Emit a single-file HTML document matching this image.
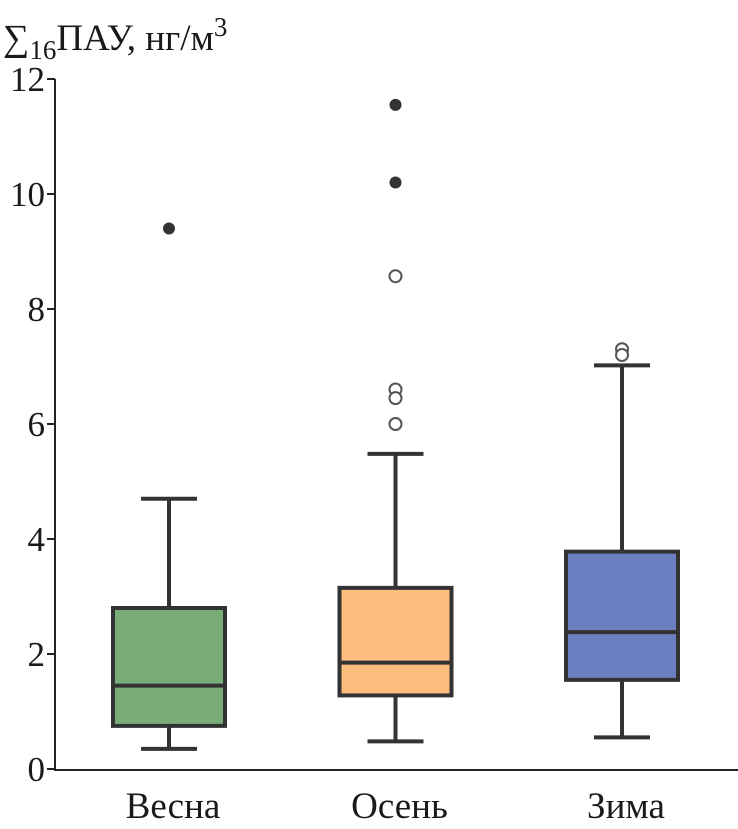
<!DOCTYPE html>
<html><head><meta charset="utf-8"><style>
html,body{margin:0;padding:0;background:#fff}
svg{display:block}
text{font-family:"Liberation Serif",serif;fill:#1a1a1a}
</style></head><body>
<svg id="chart" width="738" height="829" viewBox="0 0 738 829" xmlns="http://www.w3.org/2000/svg">
<text x="3" y="50" font-size="37">∑<tspan font-size="27" dy="9">16</tspan><tspan dy="-9">ПАУ, нг/м</tspan><tspan font-size="27" dy="-14">3</tspan></text>
<g id="axes"></g>
<g id="boxes"></g>
</svg>
<script>
const categories=["Весна","Осень","Зима"];
const colors=["#79ad78","#fdbe7d","#6b7ec0"];
const whiskerLow=[0.35,0.48,0.55];
const q1=[0.75,1.28,1.55];
const median=[1.45,1.85,2.38];
const q3=[2.8,3.15,3.78];
const whiskerHigh=[4.7,5.48,7.02];
const filledOutliers=[[9.4],[11.55,10.2],[]];
const openOutliers=[[],[8.57,6.6,6.45,6.0],[7.3,7.2]];
const yTicks=[0,2,4,6,8,10,12];
const NS="http://www.w3.org/2000/svg";
const y=v=>769-v*57.5;
const xc=i=>169+i*226.5;
const bw=112;
function mk(tag,attrs,parent){const e=document.createElementNS(NS,tag);for(const k in attrs)e.setAttribute(k,attrs[k]);parent.appendChild(e);return e;}
const axes=document.getElementById('axes');
let a=mk('line',{x1:55,x2:55,y1:y(12),y2:y(0)+2,stroke:'#222','stroke-width':2},axes);


a=mk('line',{x1:55,x2:738,y1:y(0)+1,y2:y(0)+1,stroke:'#222','stroke-width':2},axes);


yTicks.forEach(t=>{
 let l=mk('line',{x1:47,x2:55,y1:y(t),y2:y(t),stroke:'#222','stroke-width':2},axes);
 
 
 let tx=mk('text',{x:45,y:y(t)+12,'font-size':35,'text-anchor':'end'},axes);
 tx.textContent=t;
 
 
});
const g=document.getElementById('boxes');
categories.forEach((c,i)=>{
 const x=xc(i);
 let w=mk('line',{x1:x,x2:x,y1:y(whiskerLow[i]),y2:y(whiskerHigh[i]),stroke:'#333','stroke-width':4},g);
 
 
 [whiskerLow[i],whiskerHigh[i]].forEach(v=>{
  let cap=mk('line',{x1:x-28,x2:x+28,y1:y(v),y2:y(v),stroke:'#333','stroke-width':4},g);
  
  
 });
 let b=mk('rect',{x:x-bw/2,y:y(q3[i]),width:bw,height:y(q1[i])-y(q3[i]),fill:colors[i],stroke:'#333','stroke-width':4},g);
 
 
 let m=mk('line',{x1:x-bw/2,x2:x+bw/2,y1:y(median[i]),y2:y(median[i]),stroke:'#333','stroke-width':4},g);
 
 
 filledOutliers[i].forEach(v=>{
  let o=mk('circle',{cx:x,cy:y(v),r:6,fill:'#333'},g);
  
  
 });
 openOutliers[i].forEach(v=>{
  let o=mk('circle',{cx:x,cy:y(v),r:6,fill:'#fff',stroke:'#555','stroke-width':2},g);
  
  
 });
 let t=mk('text',{x:x+4,y:818,'font-size':37,'text-anchor':'middle'},g);
 t.textContent=c;
 
 
});
</script>
</body></html>
